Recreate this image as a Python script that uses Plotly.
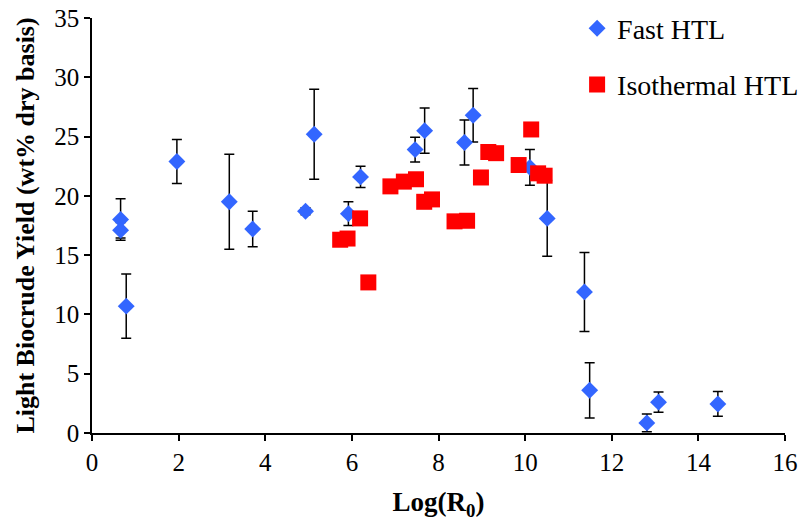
import plotly.graph_objects as go

# Fast HTL (blue diamonds) with error bars
fast_x = [0.66, 0.66, 0.79, 1.96, 3.17, 3.71, 4.93, 5.13, 5.92, 6.20, 7.46, 7.68,
          8.60, 8.80, 10.11, 10.51, 11.37, 11.49, 12.81, 13.08, 14.45]
fast_y = [18.0, 17.1, 10.7, 22.9, 19.5, 17.2, 18.7, 25.2, 18.5, 21.6, 23.9, 25.5,
          24.5, 26.8, 22.4, 18.1, 11.9, 3.6, 0.85, 2.6, 2.45]
fast_err = [1.75, 0.65, 2.7, 1.85, 4.0, 1.5, 0.3, 3.8, 1.0, 0.9, 1.05, 1.9,
            1.9, 2.25, 1.5, 3.2, 3.33, 2.33, 0.75, 0.85, 1.04]

# Isothermal HTL (red squares)
iso_x = [5.73, 5.90, 6.19, 6.38, 6.89, 7.20, 7.48, 7.67, 7.85, 8.37, 8.66, 8.98,
         9.15, 9.33, 9.85, 10.14, 10.30, 10.45]
iso_y = [16.3, 16.4, 18.1, 12.7, 20.8, 21.2, 21.4, 19.5, 19.7, 17.85, 17.9, 21.55,
         23.7, 23.6, 22.6, 25.6, 21.9, 21.7]

FONT = "Liberation Serif, Times New Roman, serif"

fig = go.Figure()
fig.add_trace(go.Scatter(
    x=fast_x, y=fast_y, mode="markers", name="Fast HTL", legendgroup="a",
    marker=dict(symbol="diamond", size=13, color="#3366FF"),
    error_y=dict(type="data", array=fast_err, visible=True, color="black",
                 thickness=1.5, width=5),
))
fig.add_trace(go.Scatter(
    x=iso_x, y=iso_y, mode="markers", name="Isothermal HTL", legendgroup="b",
    marker=dict(symbol="square", size=16, color="#FF0000"),
))

fig.update_layout(
    width=804, height=521,
    margin=dict(l=92, r=19, t=18, b=88, autoexpand=False),
    paper_bgcolor="white", plot_bgcolor="white",
    font=dict(family=FONT, size=25, color="black"),
    showlegend=True,
    legend=dict(x=0.70, y=1.035, xanchor="left", yanchor="top",
                font=dict(family=FONT, size=28, color="black"),
                bgcolor="rgba(0,0,0,0)", tracegroupgap=17,
                traceorder="grouped"),
    xaxis=dict(range=[0, 16], dtick=2, tick0=0, showgrid=False, zeroline=False,
               showline=True, linecolor="black", linewidth=1.5, automargin=False,
               ticks="outside", ticklen=6, tickwidth=1.5, tickcolor="black",
               tickfont=dict(family=FONT, size=25),
               title=dict(text="<b>Log(R<sub>0</sub>)</b>",
                          font=dict(family=FONT, size=27), standoff=20)),
    yaxis=dict(range=[0, 35], dtick=5, tick0=0, showgrid=False, zeroline=False,
               showline=True, linecolor="black", linewidth=1.5, automargin=False,
               ticks="outside", ticklen=6, tickwidth=1.5, tickcolor="black",
               tickfont=dict(family=FONT, size=25),
               title=dict(text="<b>Light Biocrude Yield (wt% dry basis)</b>",
                          font=dict(family=FONT, size=26), standoff=12)),
)

fig.write_html("out.html")
